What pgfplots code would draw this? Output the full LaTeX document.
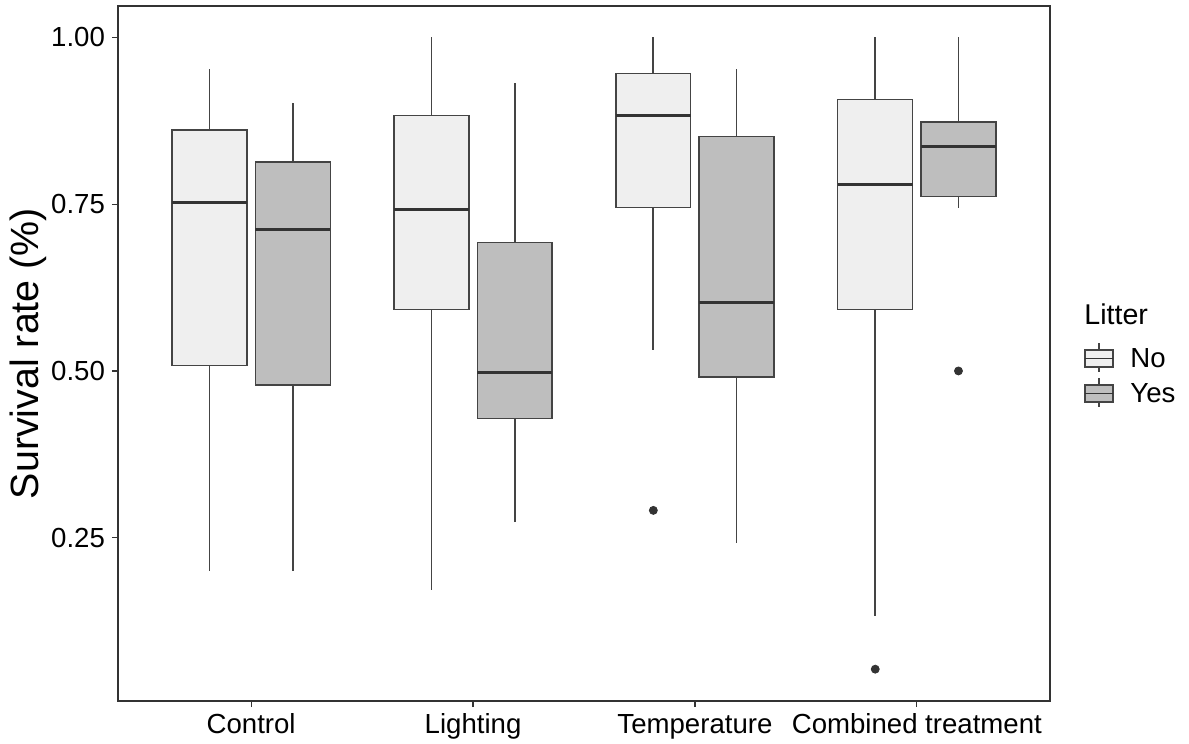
\documentclass[border=0pt]{standalone}
\usepackage{fontspec}
\setmainfont{Liberation Sans}
\usepackage{pgfplots}
\pgfplotsset{compat=1.18}
\usepgfplotslibrary{statistics}
\definecolor{c20}{HTML}{333333}
\definecolor{cLn}{HTML}{444444}
\definecolor{cNo}{HTML}{EFEFEF}
\definecolor{cYes}{HTML}{BEBEBE}
\pgfplotsset{
  bxno/.style={draw=cLn, line width=0.65pt, fill=cNo, solid},
  bxyes/.style={draw=cLn, line width=0.65pt, fill=cYes, solid},
  outl/.style={only marks, mark=*, mark size=2pt, mark options={draw=c20, fill=c20}},
}
\newcommand{\tfont}{\fontsize{13.8}{16}\selectfont}

\begin{document}
\begin{tikzpicture}
\begin{axis}[
  name=ax, at={(59pt,-3pt)}, anchor=north west,
  scale only axis, width=466pt, height=347.5pt,
  xmin=0.4, xmax=4.6, ymin=0.0053, ymax=1.047,
  xtick={1,2,3,4},
  xticklabels={Control,Lighting,Temperature,Combined treatment},
  ytick={0.25,0.5,0.75,1}, yticklabels={0.25,0.50,0.75,1.00},
  tick pos=left, tick align=outside, major tick length=3pt,
  axis line style={c20, line width=0.6pt},
  tick style={c20, line width=0.6pt},
  tick label style={font=\tfont, black},
  xticklabel style={text height=0.72em, text depth=0.21em, yshift=-2.5pt},
  boxplot/draw direction=y,
  boxplot/box extend=0.3375, boxplot/whisker extend=0,
  boxplot/every whisker/.append style={draw=cLn, line width=0.9pt},
  boxplot/every median/.style={draw=c20, line width=1.5pt},
]
% Control
\addplot[bxno, boxplot prepared={draw position=0.8125, lower whisker=0.20,
  lower quartile=0.508, median=0.753, upper quartile=0.861, upper whisker=0.952}] coordinates {};
\addplot[bxyes, boxplot prepared={draw position=1.1875, lower whisker=0.20,
  lower quartile=0.479, median=0.712, upper quartile=0.813, upper whisker=0.902}] coordinates {};
% Lighting
\addplot[bxno, boxplot prepared={draw position=1.8125, lower whisker=0.172,
  lower quartile=0.592, median=0.742, upper quartile=0.883, upper whisker=1.0}] coordinates {};
\addplot[bxyes, boxplot prepared={draw position=2.1875, lower whisker=0.273,
  lower quartile=0.429, median=0.498, upper quartile=0.693, upper whisker=0.931}] coordinates {};
% Temperature
\addplot[bxno, boxplot prepared={draw position=2.8125, lower whisker=0.532,
  lower quartile=0.745, median=0.883, upper quartile=0.946, upper whisker=1.0}] coordinates {};
\addplot[bxyes, boxplot prepared={draw position=3.1875, lower whisker=0.242,
  lower quartile=0.491, median=0.602, upper quartile=0.851, upper whisker=0.952}] coordinates {};
% Combined treatment
\addplot[bxno, boxplot prepared={draw position=3.8125, lower whisker=0.133,
  lower quartile=0.592, median=0.779, upper quartile=0.907, upper whisker=1.0}] coordinates {};
\addplot[bxyes, boxplot prepared={draw position=4.1875, lower whisker=0.744,
  lower quartile=0.761, median=0.837, upper quartile=0.873, upper whisker=1.0}] coordinates {};
% outliers
\addplot[outl] coordinates {(2.8125,0.291) (3.8125,0.053) (4.1875,0.50)};
\end{axis}

\node[rotate=90, font=\fontsize{19.7}{22}\selectfont] at (14pt,-176.75pt) {Survival rate (\%)};

% legend (pixel coordinates of the reference)
\begin{scope}[x=0.5pt, y=-0.5pt]
  \node[anchor=west, inner sep=0pt, font=\fontsize{14.3}{16}\selectfont] at (1084,314) {Litter};
  \draw[cLn, line width=0.6pt] (1099,343) -- (1099,372);
  \draw[cLn, line width=0.6pt, fill=cNo] (1085,350) rectangle (1113,367);
  \draw[c20, line width=0.9pt] (1085,358.5) -- (1113,358.5);
  \draw[cLn, line width=0.6pt] (1099,378) -- (1099,407);
  \draw[cLn, line width=0.6pt, fill=cYes] (1085,385) rectangle (1113,402);
  \draw[c20, line width=0.9pt] (1085,393.5) -- (1113,393.5);
  \node[anchor=west, inner sep=0pt, font=\tfont] at (1130,358) {No};
  \node[anchor=west, inner sep=0pt, font=\tfont] at (1130,393) {Yes};
\end{scope}

\pgfresetboundingbox
\path[use as bounding box] (0,0) rectangle (594.5pt,-372pt);
\end{tikzpicture}
\end{document}
